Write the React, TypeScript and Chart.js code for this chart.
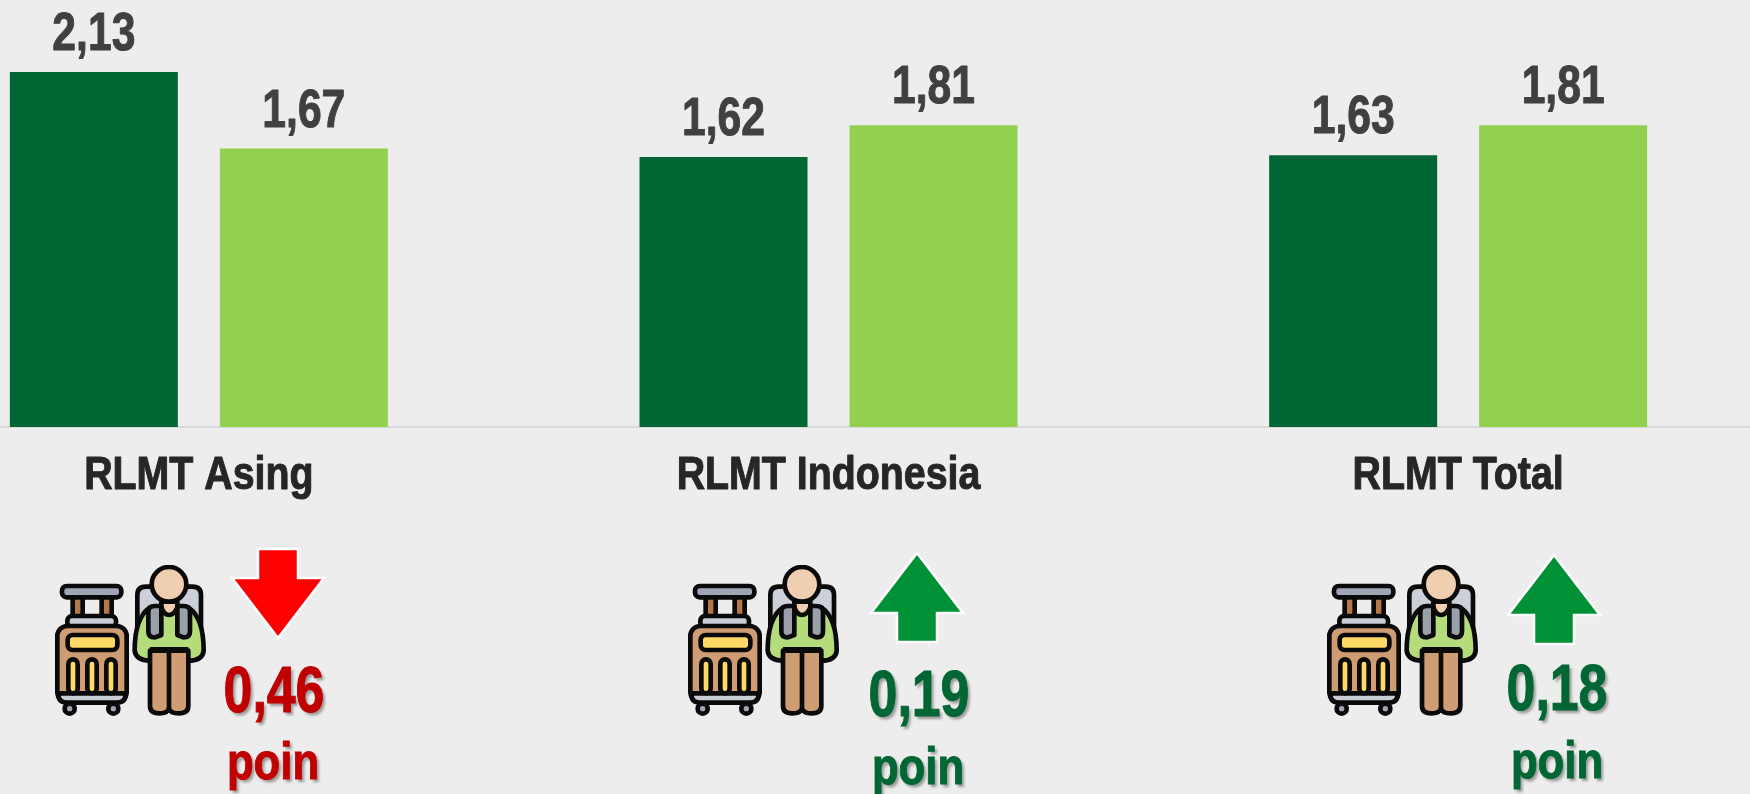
import React, { useEffect, useRef } from "react";
import { Chart, registerables } from "chart.js";

Chart.register(...registerables);

const categories = ["RLMT Asing", "RLMT Indonesia", "RLMT Total"];
const seriesA = [2.13, 1.62, 1.63];
const seriesB = [1.67, 1.81, 1.81];
const changeLabels = ["0,46", "0,19", "0,18"];
const changeDirections = ["down", "up", "up"];
const unitLabel = "poin";

const FONT = '"Liberation Sans", Arial, sans-serif';
const fmt = (v: number) => v.toFixed(2).replace(".", ",");

const squeezedText = (ctx: any, text: string, x: number, y: number, sx: number) => {
  ctx.save();
  ctx.translate(x, y);
  ctx.scale(sx, 1);
  ctx.lineJoin = "round";
  ctx.lineWidth = 1;
  ctx.strokeStyle = ctx.fillStyle;
  ctx.strokeText(text, 0, 0);
  ctx.fillText(text, 0, 0);
  ctx.restore();
};

const valueLabels = {
  id: "valueLabels",
  afterDatasetsDraw(chart: any) {
    const { ctx } = chart;
    ctx.save();
    ctx.font = `bold 54px ${FONT}`;
    ctx.fillStyle = "#404040";
    ctx.textAlign = "center";
    ctx.textBaseline = "alphabetic";
    chart.data.datasets.forEach((ds: any, i: number) => {
      chart.getDatasetMeta(i).data.forEach((bar: any, j: number) => {
        squeezedText(ctx, fmt(ds.data[j]), bar.x, bar.y - 22, 0.79);
      });
    });
    const xs = chart.scales.x;
    ctx.font = `bold 46px ${FONT}`;
    ctx.fillStyle = "#262626";
    chart.data.labels.forEach((label: string, i: number) => {
      squeezedText(ctx, label, xs.getPixelForTick(i), 489, 0.855);
    });
    ctx.restore();
  },
};

function TravelIcon({ left, top }: { left: number; top: number }) {
  const k = { stroke: "#0a0a0a", strokeWidth: 14, strokeLinejoin: "round" as const };
  return (
    <svg
      width={152}
      height={152}
      viewBox="165 135 456 456"
      style={{ position: "absolute", left, top }}
    >
      <rect x={218} y={228} width={30} height={66} fill="#b5784a" {...k} />
      <rect x={305} y={228} width={30} height={66} fill="#b5784a" {...k} />
      <rect x={186} y={198} width={178} height={34} rx={14} fill="#a0a7b4" {...k} />
      <rect x={202} y={288} width={146} height={34} rx={14} fill="#c8cdd6" {...k} />
      <circle cx={209} cy={566} r={15} fill="#a0a7b4" {...k} />
      <circle cx={340} cy={566} r={15} fill="#a0a7b4" {...k} />
      <rect x={172} y={318} width={208} height={228} rx={30} fill="#cf9d73" {...k} />
      <path d="M175 520 H377 V522 Q377 548 350 548 H202 Q175 548 175 522 Z" fill="#c8cdd6" {...k} />
      <rect x={203} y={345} width={149} height={45} rx={15} fill="#ffd966" {...k} />
      <rect x={205} y={418} width={28} height={102} rx={14} fill="#ffd966" {...k} />
      <rect x={262} y={418} width={28} height={102} rx={14} fill="#ffd966" {...k} />
      <rect x={319} y={418} width={28} height={102} rx={14} fill="#ffd966" {...k} />

      <path d="M412 225 Q412 200 437 200 H578 Q603 200 603 225 V340 H412 Z" fill="#ccd1d9" {...k} />
      <path
        d="M450 262 C415 285 404 340 404 392 Q408 422 450 422 H565 Q608 422 611 392 C611 340 600 285 565 262 Z"
        fill="#b5dc7b"
        {...k}
      />
      <path d="M450 392 H565 V558 Q565 580 536 580 Q512 580 507 566 Q502 580 478 580 Q450 580 450 558 Z" fill="#cf9d73" {...k} />
      <path d="M507 392 V566 M450 388 H565" fill="none" {...k} />
      <path d="M484 245 H532 V262 Q522 285 507 285 Q492 285 484 262 Z" fill="#f0cfb0" {...k} />
      <path d="M445 275 Q445 258 465 258 H484 V345 L465 352 Q445 352 445 335 Z" fill="#9aa0aa" {...k} />
      <path d="M570 275 Q570 258 550 258 H532 V345 L550 352 Q570 352 570 335 Z" fill="#9aa0aa" {...k} />
      <circle cx={507} cy={193} r={52} fill="#f0cfb0" {...k} />
    </svg>
  );
}

function Arrow({ cx, tipY, dir }: { cx: number; tipY: number; dir: string }) {
  const s = dir === "down" ? -1 : 1;
  const y = (d: number) => tipY + s * d;
  const pts = [
    [cx, y(0)],
    [cx + 46, y(60)],
    [cx + 20, y(60)],
    [cx + 20, y(89)],
    [cx - 20, y(89)],
    [cx - 20, y(60)],
    [cx - 46, y(60)],
  ]
    .map((p) => p.join(","))
    .join(" ");
  return (
    <svg width={1750} height={794} style={{ position: "absolute", left: 0, top: 0 }}>
      <polygon
        points={pts}
        fill={dir === "down" ? "#ff0000" : "#009036"}
        stroke="#ffffff"
        strokeWidth={2.5}
      />
    </svg>
  );
}

function Caption({ text, cx, baseline, size, color, sx }: any) {
  return (
    <div
      style={{
        position: "absolute",
        left: cx - 150,
        top: baseline - size,
        width: 300,
        height: size * 1.2,
        lineHeight: `${size * 1.2}px`,
        textAlign: "center",
        fontFamily: FONT,
        fontWeight: 700,
        fontSize: size,
        color,
        WebkitTextStroke: `1px ${color}`,
        transform: `scaleX(${sx})`,
        textShadow: "3px 3px 3px rgba(0,0,0,0.35)",
      }}
    >
      {text}
    </div>
  );
}

const iconLefts = [55, 688, 1327];
const arrowXs = [278, 917, 1554];
const arrowTips = [638, 553, 555];
const valueXs = [274, 919, 1557];
const valueBaselines = [716, 720, 714];
const unitXs = [273, 918, 1557];
const unitBaselines = [782, 787, 781];

export default function App() {
  const ref = useRef<HTMLCanvasElement>(null);
  useEffect(() => {
    const chart = new Chart(ref.current as HTMLCanvasElement, {
      type: "bar",
      data: {
        labels: categories,
        datasets: [
          { data: seriesA, backgroundColor: "#006633" },
          { data: seriesB, backgroundColor: "#92d050" },
        ],
      },
      options: {
        responsive: false,
        animation: false,
        layout: { padding: 0 },
        plugins: { legend: { display: false }, tooltip: { enabled: false } },
        datasets: { bar: { categoryPercentage: 0.667, barPercentage: 0.8 } },
        scales: {
          x: {
            afterFit(scale: any) {
              scale.height = 367;
            },
            grid: { display: false },
            border: { display: true, color: "#d9d9d9", width: 2 },
            ticks: { display: false },
          },
          y: { display: false, min: 0, max: 2.5615 },
        },
      } as any,
      plugins: [valueLabels],
    });
    return () => chart.destroy();
  }, []);

  return (
    <div
      style={{
        position: "fixed",
        left: 0,
        top: 0,
        width: 1750,
        height: 794,
        overflow: "hidden",
        background: "#ededed",
      }}
    >
      <canvas ref={ref} width={1889} height={794} style={{ position: "absolute", left: -116, top: 0 }} />
      {categories.map((c, i) => (
        <React.Fragment key={c}>
          <TravelIcon left={iconLefts[i]} top={565} />
          <Arrow cx={arrowXs[i]} tipY={arrowTips[i]} dir={changeDirections[i]} />
          <Caption
            text={changeLabels[i]}
            cx={valueXs[i]}
            baseline={valueBaselines[i]}
            size={64}
            sx={0.81}
            color={changeDirections[i] === "down" ? "#c00000" : "#006633"}
          />
          <Caption
            text={unitLabel}
            cx={unitXs[i]}
            baseline={unitBaselines[i]}
            size={52}
            sx={0.84}
            color={changeDirections[i] === "down" ? "#c00000" : "#006633"}
          />
        </React.Fragment>
      ))}
    </div>
  );
}
